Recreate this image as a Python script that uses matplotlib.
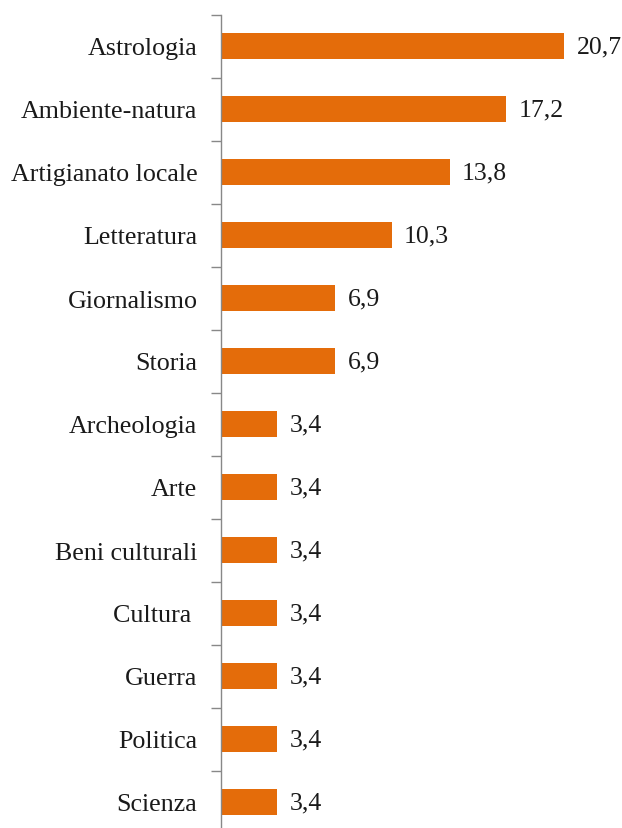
import matplotlib
matplotlib.use("Agg")
import matplotlib.pyplot as plt
import numpy as np

categories = ["Astrologia", "Ambiente-natura", "Artigianato locale", "Letteratura",
              "Giornalismo", "Storia", "Archeologia", "Arte", "Beni culturali",
              "Cultura ", "Guerra", "Politica", "Scienza"]
values = [20.7, 17.2, 13.8, 10.3, 6.9, 6.9, 3.4, 3.4, 3.4, 3.4, 3.4, 3.4, 3.4]
value_labels = ["20,7", "17,2", "13,8", "10,3", "6,9", "6,9", "3,4", "3,4",
                "3,4", "3,4", "3,4", "3,4", "3,4"]

plt.rcParams['font.family'] = ['Liberation Serif', 'DejaVu Serif']

W, H = 622, 829
fig = plt.figure(figsize=(W / 100, H / 100), dpi=100)
# axes spans from the axis line to the right edge; the bottom slot runs past the figure
ax_left, ax_top, ax_bottom = 221, 15.5, 834.5
ax = fig.add_axes([ax_left / W, 1 - ax_bottom / H, 1 - ax_left / W, (ax_bottom - ax_top) / H])

n = len(categories)
y = np.arange(n)
bar_color = "#E46C0A"
ax.barh(y, values, height=0.4, color=bar_color)

px_per_unit = 16.57
ax.set_xlim(0, (W - ax_left) / px_per_unit)
ax.set_ylim(n - 0.5, -0.5)

for yi, v, lab in zip(y, values, value_labels):
    ax.annotate(lab, (v, yi), xytext=(9, 0), textcoords="offset points",
                va="center", ha="left", fontsize=18.5, color="#1a1a1a")

ax.set_yticks(y)
ax.set_yticklabels(categories, fontsize=18.7, color="#1a1a1a")
ax.tick_params(axis="y", length=0, pad=17)
ax.set_yticks(np.arange(n + 1) - 0.5, minor=True)
ax.tick_params(axis="y", which="minor", length=7, width=1, color="#888888")
ax.set_xticks([])

for s in ["top", "right", "bottom"]:
    ax.spines[s].set_visible(False)
ax.spines["left"].set_color("#888888")
ax.spines["left"].set_linewidth(1)

fig.savefig("out.png", dpi=100)
